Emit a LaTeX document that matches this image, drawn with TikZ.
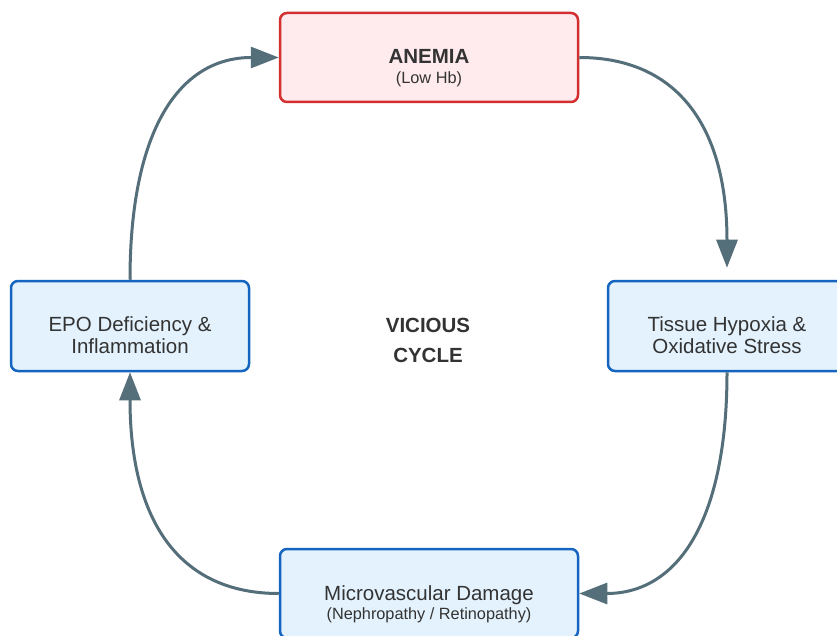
\documentclass[tikz,border=0pt]{standalone}
\usepackage{fontspec}
\setmainfont{Liberation Sans}
\usetikzlibrary{arrows.meta,calc}

\definecolor{redline}{HTML}{D32F2F}
\definecolor{redfill}{HTML}{FFEBEE}
\definecolor{blueline}{HTML}{1565C0}
\definecolor{bluefill}{HTML}{E3F2FD}
\definecolor{arrowgrey}{HTML}{546E7A}
\definecolor{textgrey}{HTML}{333333}

\begin{document}
\begin{tikzpicture}[x=1pt, y=-1pt, >={Triangle[length=28pt,width=21pt]},
  box/.style={draw=blueline, fill=bluefill, line width=2.5pt, rounded corners=7pt, minimum width=238pt, minimum height=90pt, inner sep=0pt},
  redbox/.style={box, draw=redline, fill=redfill, minimum width=298pt, minimum height=89pt},
  widebox/.style={box, minimum width=298pt, minimum height=89pt},
  txt/.style={anchor=base, align=center, text=textgrey, font=\fontsize{20.5}{21.3}\selectfont},
  title/.style={txt, font=\bfseries\fontsize{20.5}{21.3}\selectfont},
  sub/.style={anchor=base, text=textgrey, font=\fontsize{16.3}{18}\selectfont},
  flow/.style={->, draw=arrowgrey, line width=3pt}]

\fill[white] (0,0) rectangle (837,636);
\clip (0,0) rectangle (837,636);

\node[redbox]  (anemia) at (429,57.5)  {};
\node[box]     (tissue) at (727,326)   {};
\node[widebox] (micro)  at (429,593.5) {};
\node[box]     (epo)    at (130,326)   {};

% multi-line nodes sit on their last baseline
\node[title] (anemiaT) at ($(anemia.center)+(0,6)$)    {ANEMIA};
\node[sub]   (anemiaS) at ($(anemia.center)+(0,26.3)$) {(Low Hb)};
\node[txt]   (tissueT) at ($(tissue.center)+(0,27)$)   {Tissue Hypoxia \&\\Oxidative Stress};
\node[txt]   (microT)  at ($(micro.center)+(0,6.5)$)   {Microvascular Damage};
\node[sub]   (microS)  at ($(micro.center)+(0,26.1)$)  {(Nephropathy / Retinopathy)};
\node[txt]   (epoT)    at ($(epo.center)+(0,27)$)      {EPO Deficiency \&\\Inflammation};
\node[title, font=\bfseries\fontsize{20.5}{30}\selectfont] (cycle) at (428,362) {VICIOUS\\CYCLE};

\coordinate (hypin) at ($(tissue.north)+(0,-12)$);
\draw[flow] (anemia.east) .. controls +(99,0) and +(0,-140) .. (hypin);
\draw[flow] (tissue.south) .. controls +(0,148) and +(99,0) .. (micro.east);
\draw[flow] (micro.west) .. controls +(-100,0) and +(0,148) .. (epo.south);
\draw[flow] (epo.north) .. controls +(0,-149) and +(-100,0) .. (anemia.west);

\end{tikzpicture}
\end{document}
